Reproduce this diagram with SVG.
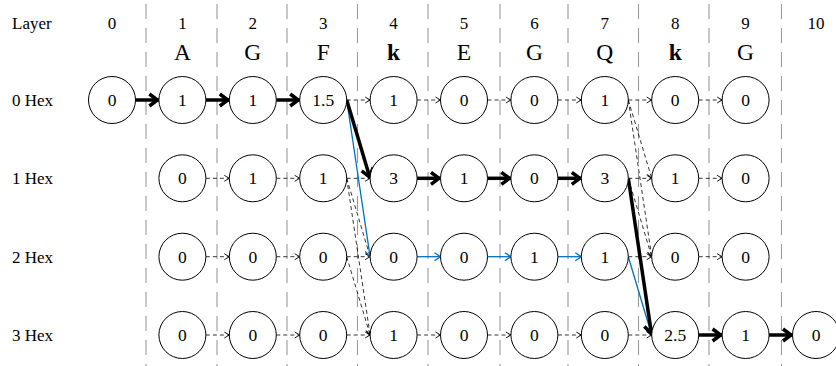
<svg xmlns="http://www.w3.org/2000/svg" width="836" height="366" viewBox="0 0 836 366">
<style>
text{font-family:"Liberation Serif","Times New Roman",serif;fill:#000}
.lbl{font-size:17px}
.hd{font-size:17px;text-anchor:middle}
.ch{font-size:23.5px;text-anchor:middle}
.b{font-weight:bold}
.sep{stroke:#999;stroke-width:1.1;stroke-dasharray:15 9;fill:none}
.nd circle{fill:#fff;stroke:#000;stroke-width:1}
.nd text{font-size:17.5px;text-anchor:middle}
.thick{stroke:#000;stroke-width:3.5;fill:none;marker-end:url(#ahT)}
.dash{stroke:#000;stroke-width:0.8;stroke-dasharray:4 3;fill:none;marker-end:url(#ahD)}
.blue{stroke:#0070C0;stroke-width:1.3;fill:none;marker-end:url(#ahB)}
</style>
<defs>
<marker id="ahT" markerUnits="userSpaceOnUse" markerWidth="16" markerHeight="16" refX="11" refY="7" orient="auto" overflow="visible"><path d="M1.5,1 L9.5,7 L1.5,13" fill="none" stroke="#000" stroke-width="3.5"/></marker>
<marker id="ahD" markerUnits="userSpaceOnUse" markerWidth="8" markerHeight="8" refX="5.5" refY="3.5" orient="auto" overflow="visible"><path d="M0.5,0.5 L5.5,3.5 L0.5,6.5" fill="none" stroke="#000" stroke-width="0.9"/></marker>
<marker id="ahB" markerUnits="userSpaceOnUse" markerWidth="10" markerHeight="10" refX="6.5" refY="4.5" orient="auto" overflow="visible"><path d="M0.5,0.5 L6.5,4.5 L0.5,8.5" fill="none" stroke="#0070C0" stroke-width="1.3"/></marker>
</defs>
<rect width="836" height="366" fill="#fff"/>
<g id="separators">
<line class="sep" x1="146" y1="4" x2="146" y2="366"/>
<line class="sep" x1="217" y1="4" x2="217" y2="366"/>
<line class="sep" x1="287" y1="4" x2="287" y2="366"/>
<line class="sep" x1="357.5" y1="4" x2="357.5" y2="366"/>
<line class="sep" x1="428" y1="4" x2="428" y2="366"/>
<line class="sep" x1="500" y1="4" x2="500" y2="366"/>
<line class="sep" x1="568" y1="4" x2="568" y2="366"/>
<line class="sep" x1="638.5" y1="4" x2="638.5" y2="366"/>
<line class="sep" x1="709" y1="4" x2="709" y2="366"/>
<line class="sep" x1="781.5" y1="4" x2="781.5" y2="366"/>
</g>
<g id="header">
<text class="lbl" x="12" y="29">Layer</text>
<text class="hd" x="112" y="29">0</text>
<text class="hd" x="182.4" y="29">1</text>
<text class="hd" x="252.8" y="29">2</text>
<text class="hd" x="323.2" y="29">3</text>
<text class="hd" x="393.6" y="29">4</text>
<text class="hd" x="464" y="29">5</text>
<text class="hd" x="534.4" y="29">6</text>
<text class="hd" x="604.8" y="29">7</text>
<text class="hd" x="675.2" y="29">8</text>
<text class="hd" x="745.6" y="29">9</text>
<text class="hd" x="816" y="29">10</text>
<text class="ch" x="182.4" y="60">A</text>
<text class="ch" x="252.8" y="60">G</text>
<text class="ch" x="323.2" y="60">F</text>
<text class="ch b" x="393.6" y="60">k</text>
<text class="ch" x="464" y="60">E</text>
<text class="ch" x="534.4" y="60">G</text>
<text class="ch" x="604.8" y="60">Q</text>
<text class="ch b" x="675.2" y="60">k</text>
<text class="ch" x="745.6" y="60">G</text>
<text class="lbl" x="12" y="106">0 Hex</text>
<text class="lbl" x="12" y="184.3">1 Hex</text>
<text class="lbl" x="12" y="262.7">2 Hex</text>
<text class="lbl" x="12" y="341">3 Hex</text>
</g>
<g id="connectors">
<line class="dash" x1="346.7" y1="100" x2="370.1" y2="100"/>
<line class="dash" x1="417.1" y1="100" x2="440.5" y2="100"/>
<line class="dash" x1="487.5" y1="100" x2="510.9" y2="100"/>
<line class="dash" x1="557.9" y1="100" x2="581.3" y2="100"/>
<line class="dash" x1="628.3" y1="100" x2="651.7" y2="100"/>
<line class="dash" x1="698.7" y1="100" x2="722.1" y2="100"/>
<line class="dash" x1="205.9" y1="178.3" x2="229.3" y2="178.3"/>
<line class="dash" x1="276.3" y1="178.3" x2="299.7" y2="178.3"/>
<line class="dash" x1="346.7" y1="178.3" x2="370.1" y2="178.3"/>
<line class="dash" x1="628.3" y1="178.3" x2="651.7" y2="178.3"/>
<line class="dash" x1="698.7" y1="178.3" x2="722.1" y2="178.3"/>
<line class="dash" x1="205.9" y1="256.7" x2="229.3" y2="256.7"/>
<line class="dash" x1="276.3" y1="256.7" x2="299.7" y2="256.7"/>
<line class="dash" x1="346.7" y1="256.7" x2="370.1" y2="256.7"/>
<line class="dash" x1="628.3" y1="256.7" x2="651.7" y2="256.7"/>
<line class="dash" x1="698.7" y1="256.7" x2="722.1" y2="256.7"/>
<line class="dash" x1="205.9" y1="335" x2="229.3" y2="335"/>
<line class="dash" x1="276.3" y1="335" x2="299.7" y2="335"/>
<line class="dash" x1="346.7" y1="335" x2="370.1" y2="335"/>
<line class="dash" x1="417.1" y1="335" x2="440.5" y2="335"/>
<line class="dash" x1="487.5" y1="335" x2="510.9" y2="335"/>
<line class="dash" x1="557.9" y1="335" x2="581.3" y2="335"/>
<line class="dash" x1="628.3" y1="335" x2="651.7" y2="335"/>
<line class="dash" x1="346.7" y1="178.3" x2="370.1" y2="256.7"/>
<line class="dash" x1="346.7" y1="178.3" x2="370.1" y2="335"/>
<line class="dash" x1="346.7" y1="256.7" x2="370.1" y2="335"/>
<line class="dash" x1="628.3" y1="100" x2="651.7" y2="178.3"/>
<line class="dash" x1="628.3" y1="100" x2="651.7" y2="256.7"/>
<line class="dash" x1="628.3" y1="178.3" x2="651.7" y2="256.7"/>
<line class="blue" x1="346.7" y1="100" x2="370.1" y2="256.7"/>
<line class="blue" x1="417.1" y1="256.7" x2="440.5" y2="256.7"/>
<line class="blue" x1="487.5" y1="256.7" x2="510.9" y2="256.7"/>
<line class="blue" x1="557.9" y1="256.7" x2="581.3" y2="256.7"/>
<line class="blue" x1="628.3" y1="256.7" x2="651.7" y2="335"/>
<line class="thick" x1="135.5" y1="100" x2="158.9" y2="100"/>
<line class="thick" x1="205.9" y1="100" x2="229.3" y2="100"/>
<line class="thick" x1="276.3" y1="100" x2="299.7" y2="100"/>
<line class="thick" x1="346.7" y1="100" x2="370.1" y2="178.3"/>
<line class="thick" x1="417.1" y1="178.3" x2="440.5" y2="178.3"/>
<line class="thick" x1="487.5" y1="178.3" x2="510.9" y2="178.3"/>
<line class="thick" x1="557.9" y1="178.3" x2="581.3" y2="178.3"/>
<line class="thick" x1="628.3" y1="178.3" x2="651.7" y2="335"/>
<line class="thick" x1="698.7" y1="335" x2="722.1" y2="335"/>
<line class="thick" x1="769.1" y1="335" x2="792.5" y2="335"/>
</g>
<g id="nodes">
<g class="nd" id="n0-0"><circle cx="112" cy="100" r="23.5"/><text x="112" y="106">0</text></g>
<g class="nd" id="n0-1"><circle cx="182.4" cy="100" r="23.5"/><text x="182.4" y="106">1</text></g>
<g class="nd" id="n0-2"><circle cx="252.8" cy="100" r="23.5"/><text x="252.8" y="106">1</text></g>
<g class="nd" id="n0-3"><circle cx="323.2" cy="100" r="23.5"/><text x="323.2" y="106">1.5</text></g>
<g class="nd" id="n0-4"><circle cx="393.6" cy="100" r="23.5"/><text x="393.6" y="106">1</text></g>
<g class="nd" id="n0-5"><circle cx="464" cy="100" r="23.5"/><text x="464" y="106">0</text></g>
<g class="nd" id="n0-6"><circle cx="534.4" cy="100" r="23.5"/><text x="534.4" y="106">0</text></g>
<g class="nd" id="n0-7"><circle cx="604.8" cy="100" r="23.5"/><text x="604.8" y="106">1</text></g>
<g class="nd" id="n0-8"><circle cx="675.2" cy="100" r="23.5"/><text x="675.2" y="106">0</text></g>
<g class="nd" id="n0-9"><circle cx="745.6" cy="100" r="23.5"/><text x="745.6" y="106">0</text></g>
<g class="nd" id="n1-1"><circle cx="182.4" cy="178.3" r="23.5"/><text x="182.4" y="184.3">0</text></g>
<g class="nd" id="n1-2"><circle cx="252.8" cy="178.3" r="23.5"/><text x="252.8" y="184.3">1</text></g>
<g class="nd" id="n1-3"><circle cx="323.2" cy="178.3" r="23.5"/><text x="323.2" y="184.3">1</text></g>
<g class="nd" id="n1-4"><circle cx="393.6" cy="178.3" r="23.5"/><text x="393.6" y="184.3">3</text></g>
<g class="nd" id="n1-5"><circle cx="464" cy="178.3" r="23.5"/><text x="464" y="184.3">1</text></g>
<g class="nd" id="n1-6"><circle cx="534.4" cy="178.3" r="23.5"/><text x="534.4" y="184.3">0</text></g>
<g class="nd" id="n1-7"><circle cx="604.8" cy="178.3" r="23.5"/><text x="604.8" y="184.3">3</text></g>
<g class="nd" id="n1-8"><circle cx="675.2" cy="178.3" r="23.5"/><text x="675.2" y="184.3">1</text></g>
<g class="nd" id="n1-9"><circle cx="745.6" cy="178.3" r="23.5"/><text x="745.6" y="184.3">0</text></g>
<g class="nd" id="n2-1"><circle cx="182.4" cy="256.7" r="23.5"/><text x="182.4" y="262.7">0</text></g>
<g class="nd" id="n2-2"><circle cx="252.8" cy="256.7" r="23.5"/><text x="252.8" y="262.7">0</text></g>
<g class="nd" id="n2-3"><circle cx="323.2" cy="256.7" r="23.5"/><text x="323.2" y="262.7">0</text></g>
<g class="nd" id="n2-4"><circle cx="393.6" cy="256.7" r="23.5"/><text x="393.6" y="262.7">0</text></g>
<g class="nd" id="n2-5"><circle cx="464" cy="256.7" r="23.5"/><text x="464" y="262.7">0</text></g>
<g class="nd" id="n2-6"><circle cx="534.4" cy="256.7" r="23.5"/><text x="534.4" y="262.7">1</text></g>
<g class="nd" id="n2-7"><circle cx="604.8" cy="256.7" r="23.5"/><text x="604.8" y="262.7">1</text></g>
<g class="nd" id="n2-8"><circle cx="675.2" cy="256.7" r="23.5"/><text x="675.2" y="262.7">0</text></g>
<g class="nd" id="n2-9"><circle cx="745.6" cy="256.7" r="23.5"/><text x="745.6" y="262.7">0</text></g>
<g class="nd" id="n3-1"><circle cx="182.4" cy="335" r="23.5"/><text x="182.4" y="341">0</text></g>
<g class="nd" id="n3-2"><circle cx="252.8" cy="335" r="23.5"/><text x="252.8" y="341">0</text></g>
<g class="nd" id="n3-3"><circle cx="323.2" cy="335" r="23.5"/><text x="323.2" y="341">0</text></g>
<g class="nd" id="n3-4"><circle cx="393.6" cy="335" r="23.5"/><text x="393.6" y="341">1</text></g>
<g class="nd" id="n3-5"><circle cx="464" cy="335" r="23.5"/><text x="464" y="341">0</text></g>
<g class="nd" id="n3-6"><circle cx="534.4" cy="335" r="23.5"/><text x="534.4" y="341">0</text></g>
<g class="nd" id="n3-7"><circle cx="604.8" cy="335" r="23.5"/><text x="604.8" y="341">0</text></g>
<g class="nd" id="n3-8"><circle cx="675.2" cy="335" r="23.5"/><text x="675.2" y="341">2.5</text></g>
<g class="nd" id="n3-9"><circle cx="745.6" cy="335" r="23.5"/><text x="745.6" y="341">1</text></g>
<g class="nd" id="n3-10"><circle cx="816" cy="335" r="23.5"/><text x="816" y="341">0</text></g>
</g>
</svg>
